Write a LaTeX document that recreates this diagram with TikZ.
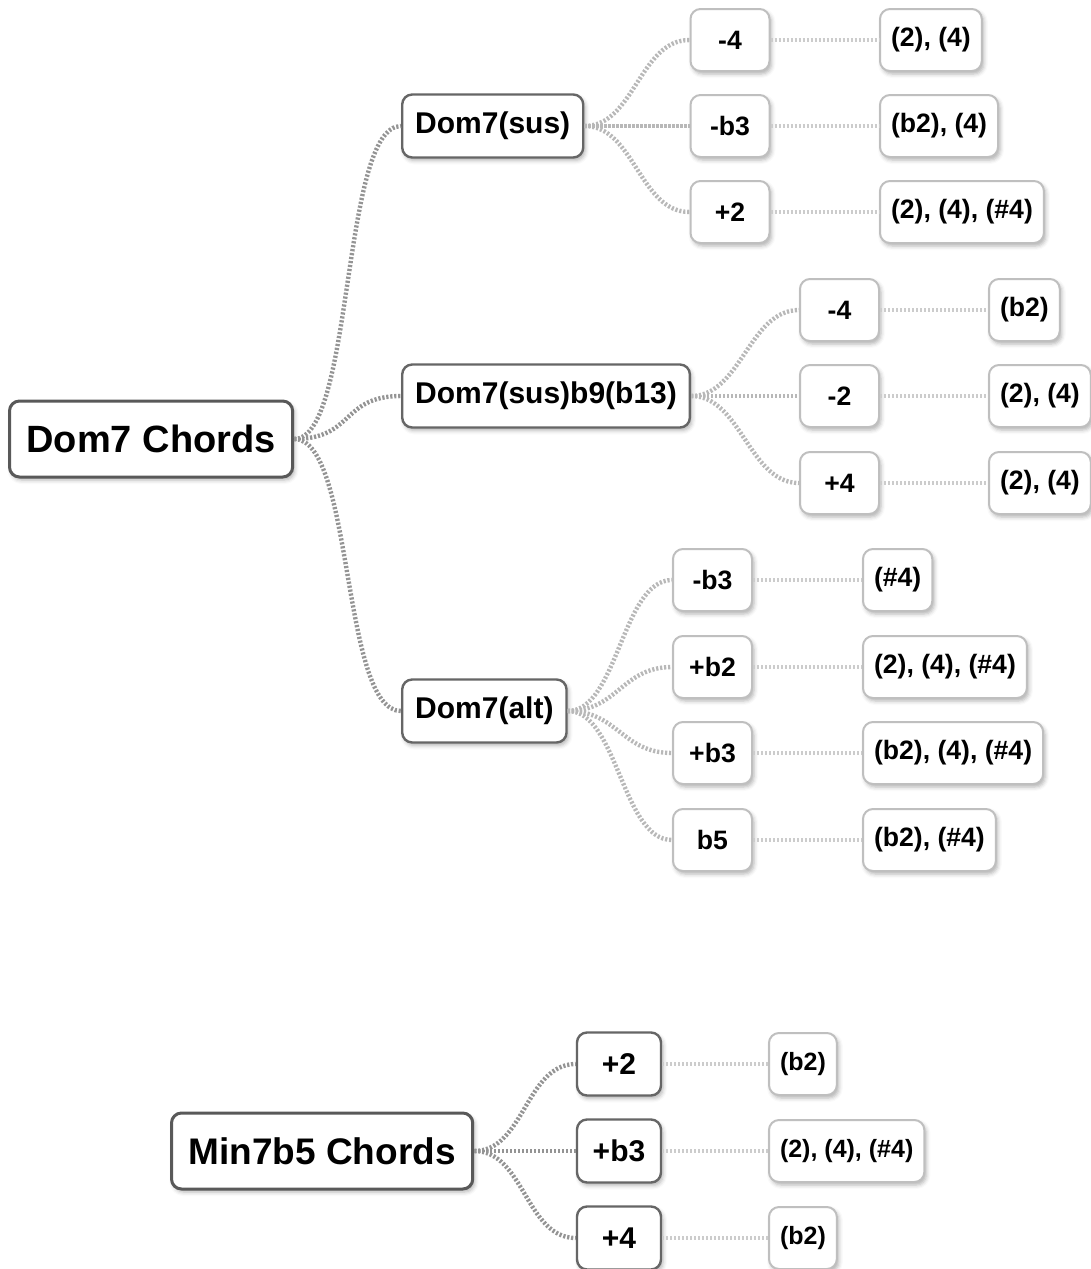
\documentclass[tikz,border=0pt]{standalone}
\usepackage{fontspec}
\setmainfont{Liberation Sans}
\usetikzlibrary{shadows.blur}
\tikzset{
  box/.style={fill=white,rounded corners=5pt,blur shadow={shadow xshift=1pt,shadow yshift=-1.5pt,shadow blur radius=2pt,shadow opacity=30}},
  rootbox/.style={box,draw=black!65,line width=1.5pt,minimum height=38pt,inner xsep=8.5pt,anchor=west,font=\fontsize{19}{22}\selectfont\bfseries},
  chordbox/.style={box,draw=black!60,line width=1.2pt,minimum height=31.5pt,inner xsep=6.5pt,font=\fontsize{15}{18}\selectfont\bfseries},
  stepbox/.style={box,draw=black!25,line width=1pt,minimum height=31pt,minimum width=39.5pt,font=\fontsize{13.3}{16}\selectfont\bfseries},
  notebox/.style={stepbox,minimum width=0pt,inner xsep=5.5pt,anchor=west},
  link/.style={line width=2.2pt,dash pattern=on 1.1pt off 0.9pt},
  rootlink/.style={link,draw=black!42},
  steplink/.style={link,draw=black!28},
  notelink/.style={link,draw=black!20}
}
\begin{document}
\begin{tikzpicture}[x=0.5pt,y=-0.5pt]
\useasboundingbox (0,0) rectangle (1091,1269);
% Dom7 tree
\node[rootbox] (dom) at (8,439) {Dom7 Chords};
\node[chordbox,anchor=west] (sus) at (401,126) {Dom7(sus)};
\node[chordbox,anchor=west] (susb) at (401,396) {Dom7(sus)b9(b13)};
\node[chordbox,anchor=west] (alt) at (401,711) {Dom7(alt)};
\draw[rootlink] (dom.east) .. controls +(60,0) and +(-60,0) .. (sus.west);
\draw[rootlink] (dom.east) .. controls +(60,0) and +(-60,0) .. (susb.west);
\draw[rootlink] (dom.east) .. controls +(60,0) and +(-60,0) .. (alt.west);
% Dom7(sus)
\node[stepbox] (susA) at (730,40) {-4};
\node[stepbox] (susB) at (730,126) {-b3};
\node[stepbox] (susC) at (730,212) {+2};
\node[notebox] (susAn) at (879,40) {(2), (4)};
\node[notebox] (susBn) at (879,126) {(b2), (4)};
\node[notebox] (susCn) at (879,212) {(2), (4), (\#4)};
\draw[steplink] (sus.east) .. controls +(50,0) and +(-50,0) .. (susA.west);
\draw[steplink] (sus.east) -- (susB.west);
\draw[steplink] (sus.east) .. controls +(50,0) and +(-50,0) .. (susC.west);
\draw[notelink] (susA) -- (susAn); \draw[notelink] (susB) -- (susBn); \draw[notelink] (susC) -- (susCn);
% Dom7(sus)b9(b13)
\node[stepbox] (sbA) at (839.5,310) {-4};
\node[stepbox] (sbB) at (839.5,396) {-2};
\node[stepbox] (sbC) at (839.5,483) {+4};
\node[notebox] (sbAn) at (988,310) {(b2)};
\node[notebox] (sbBn) at (988,396) {(2), (4)};
\node[notebox] (sbCn) at (988,483) {(2), (4)};
\draw[steplink] (susb.east) .. controls +(50,0) and +(-50,0) .. (sbA.west);
\draw[steplink] (susb.east) -- (sbB.west);
\draw[steplink] (susb.east) .. controls +(50,0) and +(-50,0) .. (sbC.west);
\draw[notelink] (sbA) -- (sbAn); \draw[notelink] (sbB) -- (sbBn); \draw[notelink] (sbC) -- (sbCn);
% Dom7(alt)
\node[stepbox] (altA) at (712.5,580) {-b3};
\node[stepbox] (altB) at (712.5,667) {+b2};
\node[stepbox] (altC) at (712.5,753) {+b3};
\node[stepbox] (altD) at (712.5,840) {b5};
\node[notebox] (altAn) at (862,580) {(\#4)};
\node[notebox] (altBn) at (862,667) {(2), (4), (\#4)};
\node[notebox] (altCn) at (862,753) {(b2), (4), (\#4)};
\node[notebox] (altDn) at (862,840) {(b2), (\#4)};
\draw[steplink] (alt.east) .. controls +(50,0) and +(-50,0) .. (altA.west);
\draw[steplink] (alt.east) .. controls +(50,0) and +(-50,0) .. (altB.west);
\draw[steplink] (alt.east) .. controls +(50,0) and +(-50,0) .. (altC.west);
\draw[steplink] (alt.east) .. controls +(50,0) and +(-50,0) .. (altD.west);
\draw[notelink] (altA) -- (altAn); \draw[notelink] (altB) -- (altBn);
\draw[notelink] (altC) -- (altCn); \draw[notelink] (altD) -- (altDn);
% Min7b5 tree
\node[rootbox,font=\fontsize{18.5}{22}\selectfont\bfseries] (min) at (170,1151) {Min7b5 Chords};
\node[chordbox,minimum width=42pt,inner xsep=0pt] (minA) at (619,1064) {+2};
\node[chordbox,minimum width=42pt,inner xsep=0pt] (minB) at (619,1151) {+b3};
\node[chordbox,minimum width=42pt,inner xsep=0pt] (minC) at (619,1238) {+4};
\node[notebox,font=\fontsize{12.5}{15}\selectfont\bfseries] (minAn) at (768,1064) {(b2)};
\node[notebox,font=\fontsize{12.5}{15}\selectfont\bfseries] (minBn) at (768,1151) {(2), (4), (\#4)};
\node[notebox,font=\fontsize{12.5}{15}\selectfont\bfseries] (minCn) at (768,1238) {(b2)};
\draw[rootlink] (min.east) .. controls +(50,0) and +(-50,0) .. (minA.west);
\draw[rootlink] (min.east) -- (minB.west);
\draw[rootlink] (min.east) .. controls +(50,0) and +(-50,0) .. (minC.west);
\draw[notelink] (minA) -- (minAn); \draw[notelink] (minB) -- (minBn); \draw[notelink] (minC) -- (minCn);
\end{tikzpicture}
\end{document}
